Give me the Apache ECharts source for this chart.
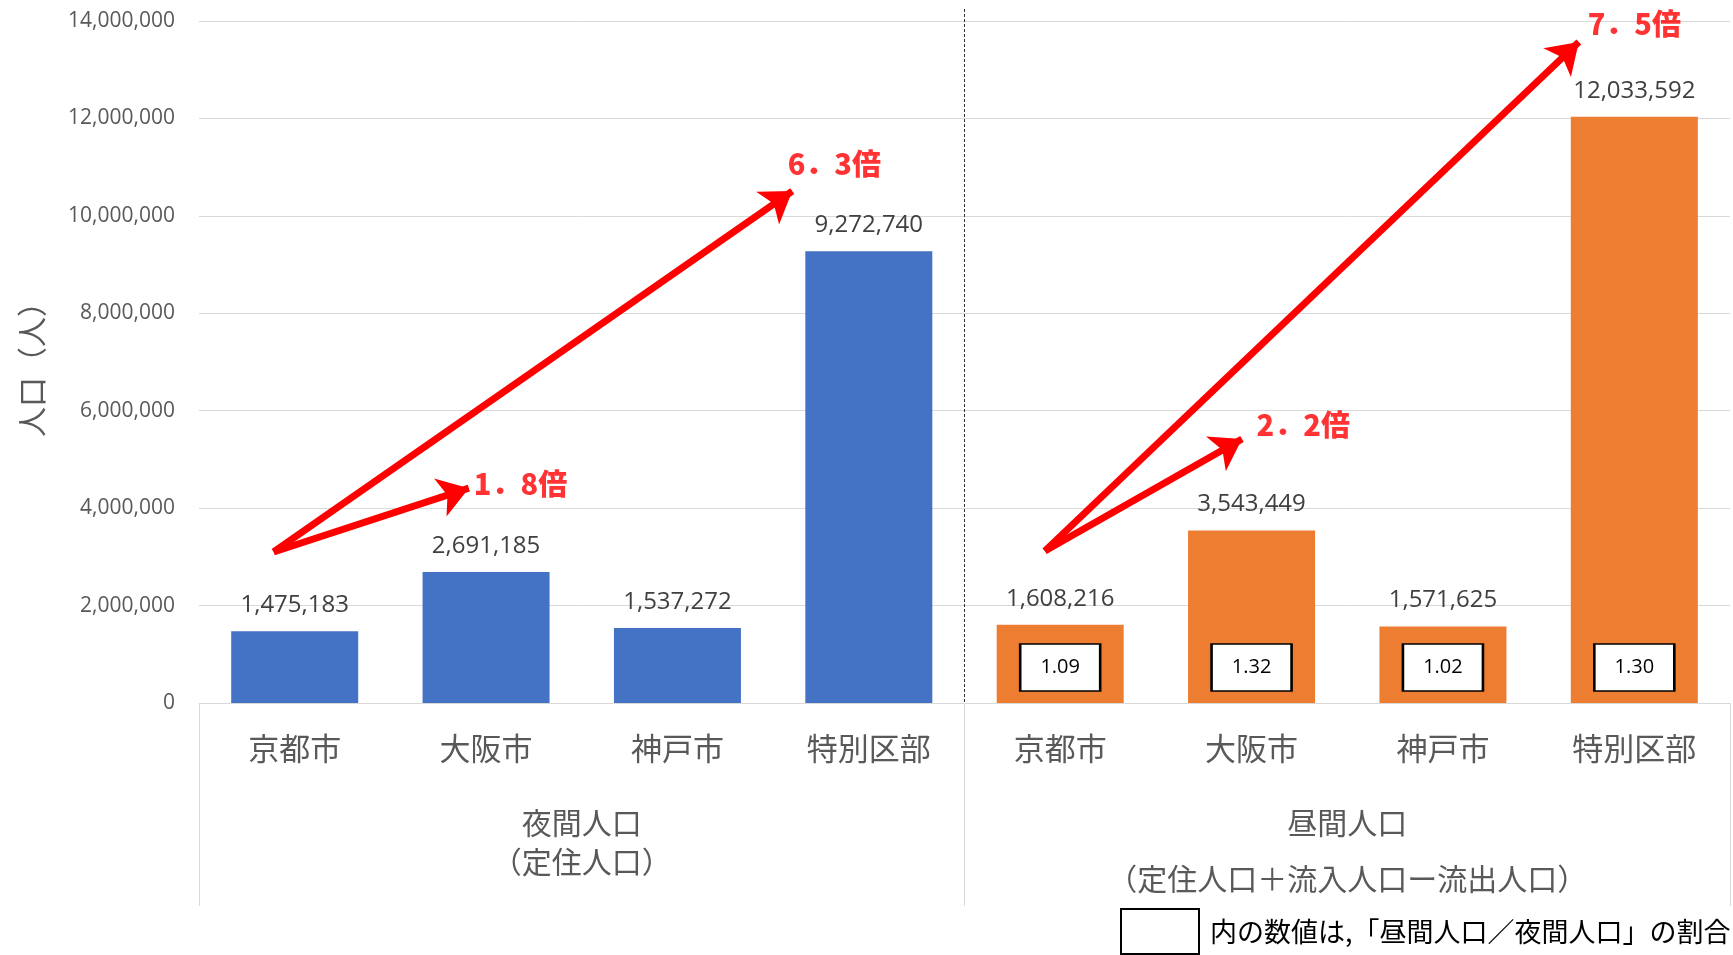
<!DOCTYPE html>
<html>
<head>
<meta charset="utf-8">
<script src="https://cdn.jsdelivr.net/npm/echarts@6/dist/echarts.min.js"></script>
<style>
  html, body { margin: 0; padding: 0; background: #fff; }
  #chart { width: 1733px; height: 955px; }
</style>
</head>
<body>
<div id="chart"></div>
<script>
// カテゴリ・データ
const categories = ['京都市', '大阪市', '神戸市', '特別区部', '京都市', '大阪市', '神戸市', '特別区部']
const groupNames = ['夜間人口', '昼間人口']
const groupNotes = ['（定住人口）', '（定住人口＋流入人口ー流出人口）']
const nightPop = [1475183, 2691185, 1537272, 9272740, '-', '-', '-', '-']
const dayPop = ['-', '-', '-', '-', 1608216, 3543449, 1571625, 12033592]
const ratios = ['', '', '', '', '1.09', '1.32', '1.02', '1.30']
const yMin = 0
const yMax = 14000000
const yStep = 2000000

// 矢印（x はカテゴリ番号、y は人口）
const arrowLines = [
  [[-0.11, 3100000], [0.91, 4410000]],
  [[-0.11, 3100000], [2.60, 10510000]],
  [[3.92, 3120000], [4.95, 5420000]],
  [[3.92, 3120000], [6.71, 13570000]]
]
const arrowTexts = ['1．8倍', '6．3倍', '2．2倍', '7．5倍']
const arrowTextAt = [[1.18, 4500000], [2.82, 11060000], [5.27, 5710000], [7.0, 13940000]]

const numFont = "'Open Sans', 'Noto Sans CJK JP', sans-serif"
const jpFont = "'Noto Sans CJK JP', sans-serif"

const chart = echarts.init(document.getElementById('chart'))

const option = {
  animation: false,
  grid: { left: 199, right: 3, top: 21, bottom: 252 },
  xAxis: [
    {
      type: 'category',
      data: categories,
      axisLine: { lineStyle: { color: '#d9d9d9', width: 1 } },
      axisTick: { show: false },
      axisLabel: {
        color: '#595959',
        fontFamily: jpFont,
        fontSize: 31,
        lineHeight: 31,
        margin: 30,
        interval: 0
      },
      splitLine: { show: false }
    },
    {
      type: 'category',
      position: 'bottom',
      data: groupNames,
      axisLine: { show: false },
      axisTick: { show: true, length: 203, lineStyle: { color: '#d9d9d9', width: 1 } },
      axisLabel: {
        margin: 100,
        interval: 0,
        color: '#595959',
        fontFamily: jpFont,
        formatter: function (value, index) {
          return '{a|' + value + '}\n{' + (index === 0 ? 'b' : 'c') + '|' + groupNotes[index] + '}'
        },
        rich: {
          a: { fontSize: 30, lineHeight: 40, color: '#595959', fontFamily: jpFont },
          b: { fontSize: 30, lineHeight: 38, color: '#595959', fontFamily: jpFont },
          c: { fontSize: 30, lineHeight: 72, color: '#595959', fontFamily: jpFont }
        }
      }
    },
    {
      type: 'value',
      show: false,
      min: -0.5,
      max: categories.length - 0.5
    }
  ],
  yAxis: {
    type: 'value',
    min: yMin,
    max: yMax,
    interval: yStep,
    name: '人口（人）',
    nameLocation: 'middle',
    nameGap: 152,
    nameTextStyle: { color: '#595959', fontFamily: jpFont, fontSize: 30 },
    axisLine: { show: false },
    axisTick: { show: false },
    axisLabel: {
      color: '#595959',
      fontFamily: numFont,
      fontSize: 21,
      margin: 24,
      formatter: function (v) { return v.toLocaleString('en-US') }
    },
    splitLine: { lineStyle: { color: '#d9d9d9', width: 1 } }
  },
  series: [
    {
      name: '夜間人口',
      type: 'bar',
      data: nightPop,
      barWidth: 127,
      barGap: '-100%',
      itemStyle: { color: '#4472C4' },
      label: {
        show: true,
        position: 'top',
        distance: 14,
        color: '#404040',
        fontFamily: numFont,
        fontSize: 24,
        formatter: function (p) { return p.value.toLocaleString('en-US') }
      }
    },
    {
      name: '昼間人口',
      type: 'bar',
      data: dayPop,
      barWidth: 127,
      barGap: '-100%',
      itemStyle: { color: '#ED7D31' },
      label: {
        show: true,
        position: 'top',
        distance: 14,
        color: '#404040',
        fontFamily: numFont,
        fontSize: 24,
        formatter: function (p) { return p.value.toLocaleString('en-US') }
      }
    },
    {
      // 昼夜間人口比率の枠
      name: '比率',
      type: 'scatter',
      z: 5,
      data: ratios.map(function (r, i) { return r ? [i, 0] : null }).filter(function (d) { return d }),
      symbol: 'rect',
      symbolSize: [80, 47],
      symbolOffset: [0, -35.5],
      itemStyle: { color: '#ffffff', borderColor: '#000000', borderWidth: 2, opacity: 1 },
      label: {
        show: true,
        position: 'inside',
        color: '#000000',
        fontFamily: numFont,
        fontSize: 20,
        formatter: function (p) { return ratios[p.data[0]] }
      },
      silent: true
    },
    {
      name: '矢印',
      type: 'lines',
      coordinateSystem: 'cartesian2d',
      xAxisIndex: 2,
      yAxisIndex: 0,
      z: 6,
      symbol: ['none', 'arrow'],
      symbolSize: 30,
      lineStyle: { color: '#FF0000', width: 7, opacity: 1 },
      data: arrowLines.map(function (c) { return { coords: c } }),
      silent: true
    },
    {
      name: '倍率',
      type: 'scatter',
      xAxisIndex: 2,
      yAxisIndex: 0,
      z: 7,
      symbolSize: 0,
      data: arrowTextAt,
      label: {
        show: true,
        position: 'inside',
        color: '#FF0000',
        fontFamily: jpFont,
        fontWeight: 900,
        fontSize: 29,
        formatter: function (p) { return arrowTexts[p.dataIndex] }
      },
      silent: true
    }
  ]
}

chart.setOption(option)

// 区切りの点線と凡例メモ
const divX = chart.convertToPixel({ xAxisIndex: 2 }, 3.5)
chart.setOption({
  graphic: [
    { type: 'line', shape: { x1: divX, y1: 704, x2: divX, y2: 906 }, style: { stroke: '#ffffff', lineWidth: 3 } },
    { type: 'line', shape: { x1: divX, y1: 9, x2: divX, y2: 906 }, style: { stroke: '#333333', lineWidth: 1, lineDash: [3, 2] } },
    { type: 'rect', shape: { x: 1121, y: 909, width: 78, height: 45 }, style: { fill: '#ffffff', stroke: '#000000', lineWidth: 2 } },
    {
      type: 'text', x: 1210, y: 932,
      style: { text: '内の数値は,「昼間人口／夜間人口」の割合', fill: '#000000', font: "27px 'Noto Sans CJK JP', sans-serif", verticalAlign: 'middle' }
    }
  ]
})
</script>
</body>
</html>
